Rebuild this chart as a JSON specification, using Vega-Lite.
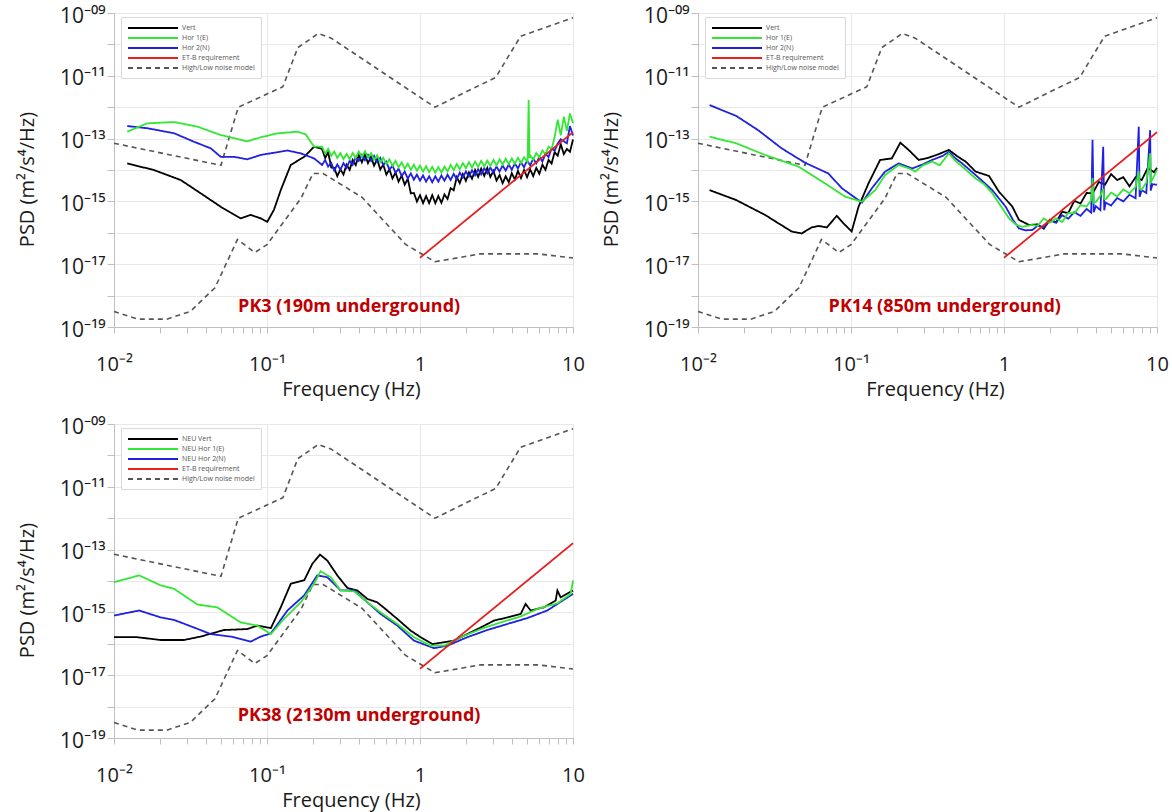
{
"$schema": "https://vega.github.io/schema/vega-lite/v6.json",
"background": "white",
"padding": {"left": 16, "top": 4, "right": 2, "bottom": 2},
"datasets": {
"nm": [
{"s":"High/Low noise model","c":"hi","f":0.01,"v":7.1e-14},{"s":"High/Low noise model","c":"hi","f":0.05,"v":1.41e-14},{"s":"High/Low noise model","c":"hi","f":0.0649,"v":1.0e-12},{"s":"High/Low noise model","c":"hi","f":0.127,"v":4.5e-12},{"s":"High/Low noise model","c":"hi","f":0.159,"v":7.9e-11},{"s":"High/Low noise model","c":"hi","f":0.217,"v":2.24e-10},{"s":"High/Low noise model","c":"hi","f":0.263,"v":1.58e-10},{"s":"High/Low noise model","c":"hi","f":1.25,"v":1.0e-12},{"s":"High/Low noise model","c":"hi","f":3.125,"v":8.9e-12},{"s":"High/Low noise model","c":"hi","f":4.545,"v":1.82e-10},{"s":"High/Low noise model","c":"hi","f":10,"v":7.1e-10},
{"s":"High/Low noise model","c":"lo","f":0.01,"v":3.1e-19},{"s":"High/Low noise model","c":"lo","f":0.01429,"v":1.78e-19},{"s":"High/Low noise model","c":"lo","f":0.0222,"v":1.78e-19},{"s":"High/Low noise model","c":"lo","f":0.0316,"v":3.16e-19},{"s":"High/Low noise model","c":"lo","f":0.0457,"v":1.78e-18},{"s":"High/Low noise model","c":"lo","f":0.0641,"v":6.1e-17},{"s":"High/Low noise model","c":"lo","f":0.0833,"v":2.37e-17},{"s":"High/Low noise model","c":"lo","f":0.1,"v":4.2e-17},{"s":"High/Low noise model","c":"lo","f":0.1667,"v":1.26e-15},{"s":"High/Low noise model","c":"lo","f":0.2,"v":7.76e-15},{"s":"High/Low noise model","c":"lo","f":0.2326,"v":7.76e-15},{"s":"High/Low noise model","c":"lo","f":0.417,"v":1.36e-15},{"s":"High/Low noise model","c":"lo","f":0.806,"v":4.26e-17},{"s":"High/Low noise model","c":"lo","f":1.25,"v":1.2e-17},{"s":"High/Low noise model","c":"lo","f":2.5,"v":2.14e-17},{"s":"High/Low noise model","c":"lo","f":5.88,"v":2.14e-17},{"s":"High/Low noise model","c":"lo","f":10,"v":1.58e-17}
],
"et": [
{"s":"ET-B requirement","f":1,"v":1.6e-17},{"s":"ET-B requirement","f":10,"v":1.6e-13}
],
"pk3": [
{"s":"Vert","f":0.0122,"v":1.62e-14},{"s":"Vert","f":0.0182,"v":1.0e-14},{"s":"Vert","f":0.0273,"v":4.79e-15},{"s":"Vert","f":0.0368,"v":1.82e-15},{"s":"Vert","f":0.0498,"v":6.76e-16},{"s":"Vert","f":0.0673,"v":2.88e-16},{"s":"Vert","f":0.0782,"v":3.72e-16},{"s":"Vert","f":0.091,"v":2.88e-16},{"s":"Vert","f":0.1005,"v":2.24e-16},{"s":"Vert","f":0.111,"v":5.37e-16},{"s":"Vert","f":0.123,"v":2.29e-15},{"s":"Vert","f":0.143,"v":1.45e-14},{"s":"Vert","f":0.175,"v":2.63e-14},{"s":"Vert","f":0.203,"v":5.5e-14},{"s":"Vert","f":0.219,"v":5.01e-14},
{"s":"Vert","f":0.229,"v":4.68e-14},{"s":"Vert","f":0.240,"v":2.40e-14},{"s":"Vert","f":0.251,"v":3.72e-14},{"s":"Vert","f":0.263,"v":1.20e-14},{"s":"Vert","f":0.275,"v":1.17e-14},{"s":"Vert","f":0.288,"v":6.38e-15},{"s":"Vert","f":0.302,"v":1.05e-14},{"s":"Vert","f":0.316,"v":7.16e-15},{"s":"Vert","f":0.331,"v":1.48e-14},{"s":"Vert","f":0.347,"v":1.01e-14},{"s":"Vert","f":0.363,"v":2.09e-14},{"s":"Vert","f":0.380,"v":1.43e-14},{"s":"Vert","f":0.398,"v":2.95e-14},{"s":"Vert","f":0.417,"v":1.76e-14},{"s":"Vert","f":0.437,"v":3.16e-14},{"s":"Vert","f":0.457,"v":1.66e-14},{"s":"Vert","f":0.479,"v":2.63e-14},{"s":"Vert","f":0.501,"v":1.38e-14},{"s":"Vert","f":0.525,"v":2.19e-14},{"s":"Vert","f":0.550,"v":1.04e-14},{"s":"Vert","f":0.575,"v":1.48e-14},{"s":"Vert","f":0.603,"v":7.16e-15},{"s":"Vert","f":0.631,"v":1.05e-14},{"s":"Vert","f":0.661,"v":5.37e-15},{"s":"Vert","f":0.692,"v":8.32e-15},{"s":"Vert","f":0.724,"v":4.27e-15},{"s":"Vert","f":0.759,"v":6.61e-15},{"s":"Vert","f":0.794,"v":3.39e-15},{"s":"Vert","f":0.832,"v":5.25e-15},{"s":"Vert","f":0.871,"v":1.80e-15},{"s":"Vert","f":0.912,"v":1.86e-15},{"s":"Vert","f":0.955,"v":9.89e-16},{"s":"Vert","f":1.0,"v":1.58e-15},{"s":"Vert","f":1.047,"v":8.81e-16},{"s":"Vert","f":1.096,"v":1.48e-15},{"s":"Vert","f":1.148,"v":8.81e-16},{"s":"Vert","f":1.202,"v":1.58e-15},{"s":"Vert","f":1.259,"v":8.81e-16},{"s":"Vert","f":1.318,"v":1.48e-15},{"s":"Vert","f":1.380,"v":9.02e-16},{"s":"Vert","f":1.445,"v":1.66e-15},{"s":"Vert","f":1.514,"v":1.20e-15},{"s":"Vert","f":1.585,"v":2.63e-15},{"s":"Vert","f":1.660,"v":2.26e-15},{"s":"Vert","f":1.738,"v":5.89e-15},{"s":"Vert","f":1.820,"v":3.80e-15},{"s":"Vert","f":1.905,"v":7.41e-15},{"s":"Vert","f":1.995,"v":4.52e-15},{"s":"Vert","f":2.089,"v":8.32e-15},{"s":"Vert","f":2.188,"v":5.25e-15},{"s":"Vert","f":2.291,"v":1.0e-14},{"s":"Vert","f":2.399,"v":6.03e-15},{"s":"Vert","f":2.512,"v":1.10e-14},{"s":"Vert","f":2.630,"v":6.53e-15},{"s":"Vert","f":2.754,"v":1.17e-14},{"s":"Vert","f":2.884,"v":6.03e-15},{"s":"Vert","f":3.020,"v":9.33e-15},{"s":"Vert","f":3.162,"v":4.62e-15},{"s":"Vert","f":3.311,"v":6.92e-15},{"s":"Vert","f":3.467,"v":3.80e-15},{"s":"Vert","f":3.631,"v":6.31e-15},{"s":"Vert","f":3.802,"v":4.07e-15},{"s":"Vert","f":3.981,"v":7.94e-15},{"s":"Vert","f":4.169,"v":4.95e-15},{"s":"Vert","f":4.365,"v":9.33e-15},{"s":"Vert","f":4.571,"v":5.56e-15},{"s":"Vert","f":4.786,"v":1.0e-14},{"s":"Vert","f":5.012,"v":5.89e-15},{"s":"Vert","f":5.248,"v":1.05e-14},{"s":"Vert","f":5.495,"v":6.38e-15},{"s":"Vert","f":5.754,"v":1.17e-14},{"s":"Vert","f":6.026,"v":7.59e-15},{"s":"Vert","f":6.310,"v":1.48e-14},{"s":"Vert","f":6.607,"v":1.01e-14},{"s":"Vert","f":6.918,"v":2.09e-14},{"s":"Vert","f":7.244,"v":1.60e-14},{"s":"Vert","f":7.586,"v":3.72e-14},{"s":"Vert","f":7.943,"v":2.85e-14},{"s":"Vert","f":8.318,"v":6.61e-14},{"s":"Vert","f":8.710,"v":3.20e-14},{"s":"Vert","f":9.120,"v":4.68e-14},{"s":"Vert","f":9.550,"v":3.80e-14},{"s":"Vert","f":10,"v":9.33e-14},
{"s":"Hor 2(N)","f":0.0122,"v":2.51e-13},{"s":"Hor 2(N)","f":0.0165,"v":2.14e-13},{"s":"Hor 2(N)","f":0.0247,"v":1.48e-13},{"s":"Hor 2(N)","f":0.0333,"v":7.94e-14},{"s":"Hor 2(N)","f":0.0429,"v":4.9e-14},{"s":"Hor 2(N)","f":0.0498,"v":2.63e-14},{"s":"Hor 2(N)","f":0.0608,"v":2.63e-14},{"s":"Hor 2(N)","f":0.0743,"v":2.19e-14},{"s":"Hor 2(N)","f":0.091,"v":3.02e-14},{"s":"Hor 2(N)","f":0.136,"v":4.17e-14},{"s":"Hor 2(N)","f":0.166,"v":3.39e-14},{"s":"Hor 2(N)","f":0.203,"v":2.34e-14},
{"s":"Hor 2(N)","f":0.229,"v":1.45e-14},{"s":"Hor 2(N)","f":0.240,"v":2.07e-14},{"s":"Hor 2(N)","f":0.251,"v":1.29e-14},{"s":"Hor 2(N)","f":0.263,"v":1.68e-14},{"s":"Hor 2(N)","f":0.275,"v":9.55e-15},{"s":"Hor 2(N)","f":0.288,"v":1.50e-14},{"s":"Hor 2(N)","f":0.302,"v":1.02e-14},{"s":"Hor 2(N)","f":0.316,"v":1.66e-14},{"s":"Hor 2(N)","f":0.331,"v":1.17e-14},{"s":"Hor 2(N)","f":0.347,"v":1.97e-14},{"s":"Hor 2(N)","f":0.363,"v":1.45e-14},{"s":"Hor 2(N)","f":0.380,"v":2.54e-14},{"s":"Hor 2(N)","f":0.398,"v":1.95e-14},{"s":"Hor 2(N)","f":0.417,"v":3.02e-14},{"s":"Hor 2(N)","f":0.437,"v":2.04e-14},{"s":"Hor 2(N)","f":0.457,"v":3.02e-14},{"s":"Hor 2(N)","f":0.479,"v":1.95e-14},{"s":"Hor 2(N)","f":0.501,"v":2.82e-14},{"s":"Hor 2(N)","f":0.525,"v":1.78e-14},{"s":"Hor 2(N)","f":0.550,"v":2.43e-14},{"s":"Hor 2(N)","f":0.575,"v":1.45e-14},{"s":"Hor 2(N)","f":0.603,"v":1.84e-14},{"s":"Hor 2(N)","f":0.631,"v":1.02e-14},{"s":"Hor 2(N)","f":0.661,"v":1.38e-14},{"s":"Hor 2(N)","f":0.692,"v":8.13e-15},{"s":"Hor 2(N)","f":0.724,"v":1.10e-14},{"s":"Hor 2(N)","f":0.759,"v":6.46e-15},{"s":"Hor 2(N)","f":0.794,"v":8.91e-15},{"s":"Hor 2(N)","f":0.832,"v":5.37e-15},{"s":"Hor 2(N)","f":0.871,"v":7.76e-15},{"s":"Hor 2(N)","f":0.912,"v":4.90e-15},{"s":"Hor 2(N)","f":0.955,"v":7.16e-15},{"s":"Hor 2(N)","f":1.0,"v":4.57e-15},{"s":"Hor 2(N)","f":1.047,"v":6.68e-15},{"s":"Hor 2(N)","f":1.096,"v":4.27e-15},{"s":"Hor 2(N)","f":1.148,"v":6.31e-15},{"s":"Hor 2(N)","f":1.202,"v":4.07e-15},{"s":"Hor 2(N)","f":1.259,"v":6.31e-15},{"s":"Hor 2(N)","f":1.318,"v":4.27e-15},{"s":"Hor 2(N)","f":1.380,"v":6.68e-15},{"s":"Hor 2(N)","f":1.445,"v":4.57e-15},{"s":"Hor 2(N)","f":1.514,"v":7.08e-15},{"s":"Hor 2(N)","f":1.585,"v":4.79e-15},{"s":"Hor 2(N)","f":1.660,"v":7.50e-15},{"s":"Hor 2(N)","f":1.738,"v":5.13e-15},{"s":"Hor 2(N)","f":1.820,"v":8.22e-15},{"s":"Hor 2(N)","f":1.905,"v":5.75e-15},{"s":"Hor 2(N)","f":1.995,"v":9.02e-15},{"s":"Hor 2(N)","f":2.089,"v":6.17e-15},{"s":"Hor 2(N)","f":2.188,"v":9.77e-15},{"s":"Hor 2(N)","f":2.291,"v":6.76e-15},{"s":"Hor 2(N)","f":2.399,"v":1.06e-14},{"s":"Hor 2(N)","f":2.512,"v":7.24e-15},{"s":"Hor 2(N)","f":2.630,"v":1.14e-14},{"s":"Hor 2(N)","f":2.754,"v":7.76e-15},{"s":"Hor 2(N)","f":2.884,"v":1.20e-14},{"s":"Hor 2(N)","f":3.020,"v":8.13e-15},{"s":"Hor 2(N)","f":3.162,"v":1.29e-14},{"s":"Hor 2(N)","f":3.311,"v":8.91e-15},{"s":"Hor 2(N)","f":3.467,"v":1.40e-14},{"s":"Hor 2(N)","f":3.631,"v":9.55e-15},{"s":"Hor 2(N)","f":3.802,"v":1.50e-14},{"s":"Hor 2(N)","f":3.981,"v":1.02e-14},{"s":"Hor 2(N)","f":4.169,"v":1.62e-14},{"s":"Hor 2(N)","f":4.365,"v":1.12e-14},{"s":"Hor 2(N)","f":4.571,"v":1.78e-14},{"s":"Hor 2(N)","f":4.786,"v":1.23e-14},{"s":"Hor 2(N)","f":5.012,"v":2.0e-14},{"s":"Hor 2(N)","f":5.248,"v":1.41e-14},{"s":"Hor 2(N)","f":5.495,"v":2.29e-14},{"s":"Hor 2(N)","f":5.754,"v":1.62e-14},{"s":"Hor 2(N)","f":6.026,"v":2.63e-14},{"s":"Hor 2(N)","f":6.310,"v":1.86e-14},{"s":"Hor 2(N)","f":6.607,"v":3.31e-14},{"s":"Hor 2(N)","f":6.918,"v":2.57e-14},{"s":"Hor 2(N)","f":7.244,"v":4.90e-14},{"s":"Hor 2(N)","f":7.586,"v":4.07e-14},{"s":"Hor 2(N)","f":7.943,"v":7.0e-14},{"s":"Hor 2(N)","f":8.318,"v":9.55e-14},{"s":"Hor 2(N)","f":9.12,"v":7.08e-14},{"s":"Hor 2(N)","f":9.55,"v":2.51e-13},{"s":"Hor 2(N)","f":10,"v":1.26e-13},
{"s":"Hor 1(E)","f":0.0122,"v":1.66e-13},{"s":"Hor 1(E)","f":0.0165,"v":3.06e-13},{"s":"Hor 1(E)","f":0.0247,"v":3.37e-13},{"s":"Hor 1(E)","f":0.0351,"v":2.4e-13},{"s":"Hor 1(E)","f":0.0498,"v":1.3e-13},{"s":"Hor 1(E)","f":0.0743,"v":8.18e-14},{"s":"Hor 1(E)","f":0.091,"v":1.1e-13},{"s":"Hor 1(E)","f":0.117,"v":1.47e-13},{"s":"Hor 1(E)","f":0.158,"v":1.66e-13},{"s":"Hor 1(E)","f":0.179,"v":1.37e-13},{"s":"Hor 1(E)","f":0.203,"v":5.53e-14},
{"s":"Hor 1(E)","f":0.229,"v":5.50e-14},{"s":"Hor 1(E)","f":0.240,"v":3.35e-14},{"s":"Hor 1(E)","f":0.251,"v":4.68e-14},{"s":"Hor 1(E)","f":0.263,"v":2.82e-14},{"s":"Hor 1(E)","f":0.275,"v":3.89e-14},{"s":"Hor 1(E)","f":0.288,"v":2.43e-14},{"s":"Hor 1(E)","f":0.302,"v":3.47e-14},{"s":"Hor 1(E)","f":0.316,"v":2.21e-14},{"s":"Hor 1(E)","f":0.331,"v":3.24e-14},{"s":"Hor 1(E)","f":0.347,"v":2.21e-14},{"s":"Hor 1(E)","f":0.363,"v":3.47e-14},{"s":"Hor 1(E)","f":0.380,"v":2.43e-14},{"s":"Hor 1(E)","f":0.398,"v":3.89e-14},{"s":"Hor 1(E)","f":0.417,"v":2.60e-14},{"s":"Hor 1(E)","f":0.437,"v":3.98e-14},{"s":"Hor 1(E)","f":0.457,"v":2.45e-14},{"s":"Hor 1(E)","f":0.479,"v":3.47e-14},{"s":"Hor 1(E)","f":0.501,"v":2.11e-14},{"s":"Hor 1(E)","f":0.525,"v":2.95e-14},{"s":"Hor 1(E)","f":0.550,"v":1.78e-14},{"s":"Hor 1(E)","f":0.575,"v":2.45e-14},{"s":"Hor 1(E)","f":0.603,"v":1.53e-14},{"s":"Hor 1(E)","f":0.631,"v":2.19e-14},{"s":"Hor 1(E)","f":0.661,"v":1.36e-14},{"s":"Hor 1(E)","f":0.692,"v":1.95e-14},{"s":"Hor 1(E)","f":0.724,"v":1.22e-14},{"s":"Hor 1(E)","f":0.759,"v":1.74e-14},{"s":"Hor 1(E)","f":0.794,"v":1.10e-14},{"s":"Hor 1(E)","f":0.832,"v":1.58e-14},{"s":"Hor 1(E)","f":0.871,"v":1.01e-14},{"s":"Hor 1(E)","f":0.912,"v":1.48e-14},{"s":"Hor 1(E)","f":0.955,"v":9.44e-15},{"s":"Hor 1(E)","f":1.0,"v":1.38e-14},{"s":"Hor 1(E)","f":1.047,"v":8.91e-15},{"s":"Hor 1(E)","f":1.096,"v":1.32e-14},{"s":"Hor 1(E)","f":1.148,"v":8.51e-15},{"s":"Hor 1(E)","f":1.202,"v":1.26e-14},{"s":"Hor 1(E)","f":1.259,"v":8.22e-15},{"s":"Hor 1(E)","f":1.318,"v":1.23e-14},{"s":"Hor 1(E)","f":1.380,"v":8.32e-15},{"s":"Hor 1(E)","f":1.445,"v":1.29e-14},{"s":"Hor 1(E)","f":1.514,"v":9.02e-15},{"s":"Hor 1(E)","f":1.585,"v":1.45e-14},{"s":"Hor 1(E)","f":1.660,"v":9.89e-15},{"s":"Hor 1(E)","f":1.738,"v":1.55e-14},{"s":"Hor 1(E)","f":1.820,"v":1.06e-14},{"s":"Hor 1(E)","f":1.905,"v":1.66e-14},{"s":"Hor 1(E)","f":1.995,"v":1.14e-14},{"s":"Hor 1(E)","f":2.089,"v":1.78e-14},{"s":"Hor 1(E)","f":2.188,"v":1.20e-14},{"s":"Hor 1(E)","f":2.291,"v":1.86e-14},{"s":"Hor 1(E)","f":2.399,"v":1.26e-14},{"s":"Hor 1(E)","f":2.512,"v":1.95e-14},{"s":"Hor 1(E)","f":2.630,"v":1.30e-14},{"s":"Hor 1(E)","f":2.754,"v":2.0e-14},{"s":"Hor 1(E)","f":2.884,"v":1.35e-14},{"s":"Hor 1(E)","f":3.020,"v":2.09e-14},{"s":"Hor 1(E)","f":3.162,"v":1.41e-14},{"s":"Hor 1(E)","f":3.311,"v":2.19e-14},{"s":"Hor 1(E)","f":3.467,"v":1.48e-14},{"s":"Hor 1(E)","f":3.631,"v":2.29e-14},{"s":"Hor 1(E)","f":3.802,"v":1.53e-14},{"s":"Hor 1(E)","f":3.981,"v":2.34e-14},{"s":"Hor 1(E)","f":4.169,"v":1.58e-14},{"s":"Hor 1(E)","f":4.365,"v":2.45e-14},{"s":"Hor 1(E)","f":4.571,"v":1.66e-14},{"s":"Hor 1(E)","f":4.786,"v":2.57e-14},{"s":"Hor 1(E)","f":5.05,"v":1.8e-14},{"s":"Hor 1(E)","f":5.13,"v":1.7e-12},{"s":"Hor 1(E)","f":5.2,"v":2.4e-14},{"s":"Hor 1(E)","f":5.248,"v":2.95e-14},{"s":"Hor 1(E)","f":5.495,"v":2.11e-14},{"s":"Hor 1(E)","f":5.754,"v":3.47e-14},{"s":"Hor 1(E)","f":6.026,"v":2.51e-14},{"s":"Hor 1(E)","f":6.310,"v":4.17e-14},{"s":"Hor 1(E)","f":6.607,"v":3.16e-14},{"s":"Hor 1(E)","f":6.918,"v":5.50e-14},{"s":"Hor 1(E)","f":7.244,"v":4.57e-14},{"s":"Hor 1(E)","f":7.586,"v":1.12e-13},{"s":"Hor 1(E)","f":7.943,"v":3.98e-13},{"s":"Hor 1(E)","f":8.318,"v":1.26e-13},{"s":"Hor 1(E)","f":8.71,"v":5.0e-13},{"s":"Hor 1(E)","f":9.12,"v":1.78e-13},{"s":"Hor 1(E)","f":9.55,"v":6.3e-13},{"s":"Hor 1(E)","f":10,"v":3.16e-13}
],
"pk14": [
{"s":"Vert","f":0.0119,"v":2.29e-15},{"s":"Vert","f":0.0178,"v":1.1e-15},{"s":"Vert","f":0.0274,"v":3.72e-16},{"s":"Vert","f":0.0409,"v":1.1e-16},{"s":"Vert","f":0.0476,"v":9.55e-17},{"s":"Vert","f":0.0553,"v":1.48e-16},{"s":"Vert","f":0.0612,"v":1.66e-16},{"s":"Vert","f":0.0695,"v":1.48e-16},{"s":"Vert","f":0.0807,"v":3.47e-16},{"s":"Vert","f":0.0893,"v":2.0e-16},{"s":"Vert","f":0.101,"v":1.1e-16},{"s":"Vert","f":0.112,"v":6.76e-16},{"s":"Vert","f":0.13,"v":3.72e-15},{"s":"Vert","f":0.155,"v":2.09e-14},{"s":"Vert","f":0.185,"v":2.34e-14},{"s":"Vert","f":0.21,"v":7.41e-14},{"s":"Vert","f":0.238,"v":4.37e-14},{"s":"Vert","f":0.277,"v":2.09e-14},{"s":"Vert","f":0.316,"v":2.4e-14},{"s":"Vert","f":0.372,"v":3.16e-14},{"s":"Vert","f":0.436,"v":4.37e-14},{"s":"Vert","f":0.501,"v":2.63e-14},{"s":"Vert","f":0.561,"v":1.86e-14},{"s":"Vert","f":0.652,"v":8.91e-15},{"s":"Vert","f":0.798,"v":6.46e-15},{"s":"Vert","f":0.927,"v":2.04e-15},{"s":"Vert","f":1.135,"v":6.76e-16},{"s":"Vert","f":1.253,"v":2.57e-16},{"s":"Vert","f":1.459,"v":1.78e-16},
{"s":"Vert","f":1.66,"v":1.86e-16},{"s":"Vert","f":1.82,"v":1.35e-16},{"s":"Vert","f":1.995,"v":2.63e-16},{"s":"Vert","f":2.188,"v":2.14e-16},{"s":"Vert","f":2.399,"v":4.68e-16},{"s":"Vert","f":2.63,"v":4.27e-16},{"s":"Vert","f":2.884,"v":1.05e-15},{"s":"Vert","f":3.162,"v":8.51e-16},{"s":"Vert","f":3.467,"v":1.86e-15},{"s":"Vert","f":3.802,"v":1.82e-15},{"s":"Vert","f":4.169,"v":4.17e-15},{"s":"Vert","f":4.571,"v":3.39e-15},{"s":"Vert","f":5.012,"v":7.41e-15},{"s":"Vert","f":5.495,"v":4.79e-15},{"s":"Vert","f":6.026,"v":5.89e-15},{"s":"Vert","f":6.607,"v":3.02e-15},{"s":"Vert","f":7.244,"v":5.89e-15},{"s":"Vert","f":7.943,"v":4.79e-15},{"s":"Vert","f":8.71,"v":1.17e-14},{"s":"Vert","f":9.55,"v":8.51e-15},{"s":"Vert","f":10,"v":1.17e-14},
{"s":"Hor 2(N)","f":0.0119,"v":1.17e-12},{"s":"Hor 2(N)","f":0.0178,"v":5.25e-13},{"s":"Hor 2(N)","f":0.0247,"v":1.86e-13},{"s":"Hor 2(N)","f":0.0352,"v":4.9e-14},{"s":"Hor 2(N)","f":0.0501,"v":1.7e-14},{"s":"Hor 2(N)","f":0.0711,"v":7.76e-15},{"s":"Hor 2(N)","f":0.0871,"v":2.63e-15},{"s":"Hor 2(N)","f":0.118,"v":9.12e-16},{"s":"Hor 2(N)","f":0.137,"v":2.63e-15},{"s":"Hor 2(N)","f":0.167,"v":8.91e-15},{"s":"Hor 2(N)","f":0.205,"v":1.62e-14},{"s":"Hor 2(N)","f":0.251,"v":1.12e-14},{"s":"Hor 2(N)","f":0.295,"v":1.51e-14},{"s":"Hor 2(N)","f":0.339,"v":2.09e-14},{"s":"Hor 2(N)","f":0.398,"v":2.82e-14},{"s":"Hor 2(N)","f":0.436,"v":3.8e-14},{"s":"Hor 2(N)","f":0.479,"v":2.4e-14},{"s":"Hor 2(N)","f":0.533,"v":1.62e-14},{"s":"Hor 2(N)","f":0.652,"v":6.92e-15},{"s":"Hor 2(N)","f":0.741,"v":3.98e-15},{"s":"Hor 2(N)","f":0.838,"v":2.29e-15},{"s":"Hor 2(N)","f":1.026,"v":6.76e-16},{"s":"Hor 2(N)","f":1.148,"v":2.51e-16},{"s":"Hor 2(N)","f":1.253,"v":1.38e-16},{"s":"Hor 2(N)","f":1.38,"v":1.2e-16},{"s":"Hor 2(N)","f":1.535,"v":1.23e-16},
{"s":"Hor 2(N)","f":1.66,"v":1.7e-16},{"s":"Hor 2(N)","f":1.82,"v":1.48e-16},{"s":"Hor 2(N)","f":1.995,"v":2.51e-16},{"s":"Hor 2(N)","f":2.188,"v":2.09e-16},{"s":"Hor 2(N)","f":2.399,"v":3.63e-16},{"s":"Hor 2(N)","f":2.63,"v":2.82e-16},{"s":"Hor 2(N)","f":2.884,"v":4.57e-16},{"s":"Hor 2(N)","f":3.162,"v":3.47e-16},{"s":"Hor 2(N)","f":3.467,"v":5.75e-16},{"s":"Hor 2(N)","f":3.715,"v":4.37e-16},{"s":"Hor 2(N)","f":3.79,"v":9.12e-14},{"s":"Hor 2(N)","f":3.86,"v":4.5e-16},{"s":"Hor 2(N)","f":3.981,"v":7.08e-16},{"s":"Hor 2(N)","f":4.266,"v":5.25e-16},{"s":"Hor 2(N)","f":4.45,"v":5.5e-14},{"s":"Hor 2(N)","f":4.52,"v":5.2e-16},{"s":"Hor 2(N)","f":4.62,"v":9.12e-16},{"s":"Hor 2(N)","f":5.012,"v":7.41e-16},{"s":"Hor 2(N)","f":5.495,"v":1.29e-15},{"s":"Hor 2(N)","f":6.026,"v":1.0e-15},{"s":"Hor 2(N)","f":6.607,"v":1.62e-15},{"s":"Hor 2(N)","f":7.244,"v":1.26e-15},{"s":"Hor 2(N)","f":7.6,"v":2.4e-13},{"s":"Hor 2(N)","f":7.7,"v":1.4e-15},{"s":"Hor 2(N)","f":7.943,"v":2.29e-15},{"s":"Hor 2(N)","f":8.511,"v":1.86e-15},{"s":"Hor 2(N)","f":9.02,"v":1.86e-13},{"s":"Hor 2(N)","f":9.1,"v":2.2e-15},{"s":"Hor 2(N)","f":9.333,"v":3.55e-15},{"s":"Hor 2(N)","f":10,"v":3.39e-15},
{"s":"Hor 1(E)","f":0.0119,"v":1.15e-13},{"s":"Hor 1(E)","f":0.0178,"v":7.08e-14},{"s":"Hor 1(E)","f":0.0274,"v":3.02e-14},{"s":"Hor 1(E)","f":0.0453,"v":1.29e-14},{"s":"Hor 1(E)","f":0.0678,"v":3.72e-15},{"s":"Hor 1(E)","f":0.0916,"v":1.41e-15},{"s":"Hor 1(E)","f":0.118,"v":9.77e-16},{"s":"Hor 1(E)","f":0.144,"v":2.29e-15},{"s":"Hor 1(E)","f":0.167,"v":6.92e-15},{"s":"Hor 1(E)","f":0.205,"v":1.45e-14},{"s":"Hor 1(E)","f":0.24,"v":1.12e-14},{"s":"Hor 1(E)","f":0.263,"v":8.91e-15},{"s":"Hor 1(E)","f":0.295,"v":1.41e-14},{"s":"Hor 1(E)","f":0.339,"v":1.86e-14},{"s":"Hor 1(E)","f":0.38,"v":1.41e-14},{"s":"Hor 1(E)","f":0.436,"v":3.39e-14},{"s":"Hor 1(E)","f":0.479,"v":2.0e-14},{"s":"Hor 1(E)","f":0.533,"v":1.29e-14},{"s":"Hor 1(E)","f":0.652,"v":5.37e-15},{"s":"Hor 1(E)","f":0.741,"v":3.55e-15},{"s":"Hor 1(E)","f":0.838,"v":1.82e-15},{"s":"Hor 1(E)","f":1.079,"v":2.88e-16},{"s":"Hor 1(E)","f":1.202,"v":1.78e-16},{"s":"Hor 1(E)","f":1.318,"v":1.55e-16},{"s":"Hor 1(E)","f":1.514,"v":1.78e-16},
{"s":"Hor 1(E)","f":1.66,"v":1.66e-16},{"s":"Hor 1(E)","f":1.82,"v":2.88e-16},{"s":"Hor 1(E)","f":1.995,"v":2.09e-16},{"s":"Hor 1(E)","f":2.188,"v":2.88e-16},{"s":"Hor 1(E)","f":2.399,"v":2.19e-16},{"s":"Hor 1(E)","f":2.63,"v":4.27e-16},{"s":"Hor 1(E)","f":2.884,"v":4.17e-16},{"s":"Hor 1(E)","f":3.162,"v":7.59e-16},{"s":"Hor 1(E)","f":3.467,"v":6.92e-16},{"s":"Hor 1(E)","f":3.715,"v":1.1e-15},{"s":"Hor 1(E)","f":3.79,"v":5.5e-15},{"s":"Hor 1(E)","f":3.86,"v":9.0e-16},{"s":"Hor 1(E)","f":3.981,"v":9.55e-16},{"s":"Hor 1(E)","f":4.266,"v":1.51e-15},{"s":"Hor 1(E)","f":4.45,"v":2.5e-15},{"s":"Hor 1(E)","f":4.52,"v":1.2e-15},{"s":"Hor 1(E)","f":4.62,"v":1.17e-15},{"s":"Hor 1(E)","f":5.012,"v":1.91e-15},{"s":"Hor 1(E)","f":5.495,"v":1.45e-15},{"s":"Hor 1(E)","f":6.026,"v":2.4e-15},{"s":"Hor 1(E)","f":6.607,"v":1.82e-15},{"s":"Hor 1(E)","f":7.244,"v":2.88e-15},{"s":"Hor 1(E)","f":7.6,"v":9.0e-15},{"s":"Hor 1(E)","f":7.7,"v":2.5e-15},{"s":"Hor 1(E)","f":7.943,"v":2.34e-15},{"s":"Hor 1(E)","f":8.511,"v":3.98e-15},{"s":"Hor 1(E)","f":9.02,"v":3.4e-14},{"s":"Hor 1(E)","f":9.1,"v":4.0e-15},{"s":"Hor 1(E)","f":9.333,"v":5.01e-15},{"s":"Hor 1(E)","f":10,"v":1.0e-14}
],
"pk38": [
{"s":"NEU Vert","f":0.01,"v":1.62e-16},{"s":"NEU Vert","f":0.0142,"v":1.62e-16},{"s":"NEU Vert","f":0.0202,"v":1.32e-16},{"s":"NEU Vert","f":0.0287,"v":1.32e-16},{"s":"NEU Vert","f":0.0368,"v":1.7e-16},{"s":"NEU Vert","f":0.0524,"v":2.75e-16},{"s":"NEU Vert","f":0.0743,"v":2.95e-16},{"s":"NEU Vert","f":0.0865,"v":3.8e-16},{"s":"NEU Vert","f":0.106,"v":3.16e-16},{"s":"NEU Vert","f":0.123,"v":1.45e-15},{"s":"NEU Vert","f":0.143,"v":8.13e-15},{"s":"NEU Vert","f":0.175,"v":1.05e-14},{"s":"NEU Vert","f":0.198,"v":3.55e-14},{"s":"NEU Vert","f":0.222,"v":6.92e-14},{"s":"NEU Vert","f":0.248,"v":4.47e-14},{"s":"NEU Vert","f":0.288,"v":1.51e-14},{"s":"NEU Vert","f":0.335,"v":6.03e-15},{"s":"NEU Vert","f":0.389,"v":5.01e-15},{"s":"NEU Vert","f":0.453,"v":2.69e-15},{"s":"NEU Vert","f":0.526,"v":2.09e-15},{"s":"NEU Vert","f":0.611,"v":1.15e-15},{"s":"NEU Vert","f":0.711,"v":6.17e-16},{"s":"NEU Vert","f":0.869,"v":2.63e-16},{"s":"NEU Vert","f":1.009,"v":1.62e-16},{"s":"NEU Vert","f":1.205,"v":9.77e-17},{"s":"NEU Vert","f":1.435,"v":1.12e-16},{"s":"NEU Vert","f":1.667,"v":1.26e-16},{"s":"NEU Vert","f":2.037,"v":2.04e-16},{"s":"NEU Vert","f":2.495,"v":3.31e-16},{"s":"NEU Vert","f":3.048,"v":5.5e-16},{"s":"NEU Vert","f":3.724,"v":6.92e-16},{"s":"NEU Vert","f":4.55,"v":8.91e-16},{"s":"NEU Vert","f":4.898,"v":1.86e-15},{"s":"NEU Vert","f":5.284,"v":1.15e-15},{"s":"NEU Vert","f":6.457,"v":1.45e-15},{"s":"NEU Vert","f":7.709,"v":2.4e-15},{"s":"NEU Vert","f":7.907,"v":5.01e-15},{"s":"NEU Vert","f":8.299,"v":3.02e-15},{"s":"NEU Vert","f":10,"v":5.01e-15},
{"s":"NEU Hor 2(N)","f":0.01,"v":7.94e-16},{"s":"NEU Hor 2(N)","f":0.0146,"v":1.15e-15},{"s":"NEU Hor 2(N)","f":0.0202,"v":6.92e-16},{"s":"NEU Hor 2(N)","f":0.0247,"v":5.75e-16},{"s":"NEU Hor 2(N)","f":0.0333,"v":3.31e-16},{"s":"NEU Hor 2(N)","f":0.0429,"v":2.04e-16},{"s":"NEU Hor 2(N)","f":0.0579,"v":1.7e-16},{"s":"NEU Hor 2(N)","f":0.0782,"v":1.17e-16},{"s":"NEU Hor 2(N)","f":0.091,"v":1.7e-16},{"s":"NEU Hor 2(N)","f":0.106,"v":2.14e-16},{"s":"NEU Hor 2(N)","f":0.136,"v":1.15e-15},{"s":"NEU Hor 2(N)","f":0.175,"v":3.47e-15},{"s":"NEU Hor 2(N)","f":0.213,"v":1.51e-14},{"s":"NEU Hor 2(N)","f":0.248,"v":1.32e-14},{"s":"NEU Hor 2(N)","f":0.303,"v":5.01e-15},{"s":"NEU Hor 2(N)","f":0.371,"v":5.01e-15},{"s":"NEU Hor 2(N)","f":0.453,"v":2.09e-15},{"s":"NEU Hor 2(N)","f":0.553,"v":8.91e-16},{"s":"NEU Hor 2(N)","f":0.711,"v":3.8e-16},{"s":"NEU Hor 2(N)","f":0.914,"v":1.26e-16},{"s":"NEU Hor 2(N)","f":1.236,"v":7.24e-17},{"s":"NEU Hor 2(N)","f":1.51,"v":8.71e-17},{"s":"NEU Hor 2(N)","f":2.037,"v":1.62e-16},{"s":"NEU Hor 2(N)","f":2.754,"v":2.75e-16},{"s":"NEU Hor 2(N)","f":3.724,"v":4.27e-16},{"s":"NEU Hor 2(N)","f":5.035,"v":6.61e-16},{"s":"NEU Hor 2(N)","f":6.792,"v":1.15e-15},{"s":"NEU Hor 2(N)","f":10,"v":3.89e-15},
{"s":"NEU Hor 1(E)","f":0.01,"v":9.12e-15},{"s":"NEU Hor 1(E)","f":0.0146,"v":1.51e-14},{"s":"NEU Hor 1(E)","f":0.0202,"v":7.24e-15},{"s":"NEU Hor 1(E)","f":0.0247,"v":5.62e-15},{"s":"NEU Hor 1(E)","f":0.0351,"v":1.78e-15},{"s":"NEU Hor 1(E)","f":0.0473,"v":1.45e-15},{"s":"NEU Hor 1(E)","f":0.0673,"v":4.79e-16},{"s":"NEU Hor 1(E)","f":0.0865,"v":3.8e-16},{"s":"NEU Hor 1(E)","f":0.106,"v":2.04e-16},{"s":"NEU Hor 1(E)","f":0.129,"v":6.17e-16},{"s":"NEU Hor 1(E)","f":0.166,"v":2.09e-15},{"s":"NEU Hor 1(E)","f":0.203,"v":8.13e-15},{"s":"NEU Hor 1(E)","f":0.224,"v":2.04e-14},{"s":"NEU Hor 1(E)","f":0.261,"v":1.32e-14},{"s":"NEU Hor 1(E)","f":0.303,"v":5.01e-15},{"s":"NEU Hor 1(E)","f":0.371,"v":4.68e-15},{"s":"NEU Hor 1(E)","f":0.453,"v":2.09e-15},{"s":"NEU Hor 1(E)","f":0.553,"v":1.0e-15},{"s":"NEU Hor 1(E)","f":0.711,"v":4.27e-16},{"s":"NEU Hor 1(E)","f":0.914,"v":1.62e-16},{"s":"NEU Hor 1(E)","f":1.175,"v":8.71e-17},{"s":"NEU Hor 1(E)","f":1.435,"v":8.71e-17},{"s":"NEU Hor 1(E)","f":1.845,"v":1.62e-16},{"s":"NEU Hor 1(E)","f":2.495,"v":2.95e-16},{"s":"NEU Hor 1(E)","f":3.365,"v":4.79e-16},{"s":"NEU Hor 1(E)","f":4.55,"v":7.41e-16},{"s":"NEU Hor 1(E)","f":5.848,"v":1.29e-15},{"s":"NEU Hor 1(E)","f":7.907,"v":1.95e-15},{"s":"NEU Hor 1(E)","f":9.66,"v":3.89e-15},{"s":"NEU Hor 1(E)","f":10,"v":1.05e-14}
]
},
"concat": [
{
"width": 459, "height": 314,
"encoding": {
"x": {"field":"f","type":"quantitative","scale":{"type":"log","domain":[0.01,10],"nice":false},"axis":{"title":"Frequency (Hz)"}},
"y": {"field":"v","type":"quantitative","scale":{"type":"log","domain":[1e-19,1e-9],"nice":false},"axis":{"title":"PSD (m²/s⁴/Hz)"}}
},
"layer": [
{"data":{"name":"nm"},"mark":{"type":"line","strokeWidth":1.6},"encoding":{
"color":{"field":"s","type":"nominal","scale":{"domain":["Vert","Hor 1(E)","Hor 2(N)","ET-B requirement","High/Low noise model"],"range":["#000000","#33e633","#2020e0","#e62020","#555555"]},"legend":{"title":null}},
"strokeDash":{"field":"s","type":"nominal","scale":{"domain":["Vert","Hor 1(E)","Hor 2(N)","ET-B requirement","High/Low noise model"],"range":[[1,0],[1,0],[1,0],[1,0],[5,4]]},"legend":{"title":null}},
"detail":{"field":"c"}}},
{"data":{"name":"pk3"},"mark":{"type":"line","strokeWidth":1.8},"encoding":{
"color":{"field":"s","type":"nominal","legend":{"title":null}},
"strokeDash":{"field":"s","type":"nominal","legend":{"title":null}}}},
{"data":{"name":"et"},"mark":{"type":"line","strokeWidth":1.8},"encoding":{
"color":{"field":"s","type":"nominal","legend":{"title":null}},
"strokeDash":{"field":"s","type":"nominal","legend":{"title":null}}}},
{"data":{"values":[{"f":0.344,"v":4.4e-19,"t":"PK3 (190m underground)"}]},"mark":{"type":"text","font":"Open Sans","fontWeight":"bold","fontSize":18,"color":"#c00000","baseline":"middle"},"encoding":{"text":{"field":"t"}}}
]
},
{
"width": 459, "height": 314,
"encoding": {
"x": {"field":"f","type":"quantitative","scale":{"type":"log","domain":[0.01,10],"nice":false},"axis":{"title":"Frequency (Hz)"}},
"y": {"field":"v","type":"quantitative","scale":{"type":"log","domain":[1e-19,1e-9],"nice":false},"axis":{"title":"PSD (m²/s⁴/Hz)"}}
},
"layer": [
{"data":{"name":"nm"},"mark":{"type":"line","strokeWidth":1.6},"encoding":{
"color":{"field":"s","type":"nominal","scale":{"domain":["Vert","Hor 1(E)","Hor 2(N)","ET-B requirement","High/Low noise model"],"range":["#000000","#33e633","#2020e0","#e62020","#555555"]},"legend":{"title":null}},
"strokeDash":{"field":"s","type":"nominal","scale":{"domain":["Vert","Hor 1(E)","Hor 2(N)","ET-B requirement","High/Low noise model"],"range":[[1,0],[1,0],[1,0],[1,0],[5,4]]},"legend":{"title":null}},
"detail":{"field":"c"}}},
{"data":{"name":"pk14"},"mark":{"type":"line","strokeWidth":1.8},"encoding":{
"color":{"field":"s","type":"nominal","legend":{"title":null}},
"strokeDash":{"field":"s","type":"nominal","legend":{"title":null}}}},
{"data":{"name":"et"},"mark":{"type":"line","strokeWidth":1.8},"encoding":{
"color":{"field":"s","type":"nominal","legend":{"title":null}},
"strokeDash":{"field":"s","type":"nominal","legend":{"title":null}}}},
{"data":{"values":[{"f":0.41,"v":4.4e-19,"t":"PK14 (850m underground)"}]},"mark":{"type":"text","font":"Open Sans","fontWeight":"bold","fontSize":18,"color":"#c00000","baseline":"middle"},"encoding":{"text":{"field":"t"}}}
]
},
{
"width": 459, "height": 314,
"encoding": {
"x": {"field":"f","type":"quantitative","scale":{"type":"log","domain":[0.01,10],"nice":false},"axis":{"title":"Frequency (Hz)"}},
"y": {"field":"v","type":"quantitative","scale":{"type":"log","domain":[1e-19,1e-9],"nice":false},"axis":{"title":"PSD (m²/s⁴/Hz)"}}
},
"layer": [
{"data":{"name":"nm"},"mark":{"type":"line","strokeWidth":1.6},"encoding":{
"color":{"field":"s","type":"nominal","scale":{"domain":["NEU Vert","NEU Hor 1(E)","NEU Hor 2(N)","ET-B requirement","High/Low noise model"],"range":["#000000","#33e633","#2020e0","#e62020","#555555"]},"legend":{"title":null}},
"strokeDash":{"field":"s","type":"nominal","scale":{"domain":["NEU Vert","NEU Hor 1(E)","NEU Hor 2(N)","ET-B requirement","High/Low noise model"],"range":[[1,0],[1,0],[1,0],[1,0],[5,4]]},"legend":{"title":null}},
"detail":{"field":"c"}}},
{"data":{"name":"pk38"},"mark":{"type":"line","strokeWidth":1.8},"encoding":{
"color":{"field":"s","type":"nominal","legend":{"title":null}},
"strokeDash":{"field":"s","type":"nominal","legend":{"title":null}}}},
{"data":{"name":"et"},"mark":{"type":"line","strokeWidth":1.8},"encoding":{
"color":{"field":"s","type":"nominal","legend":{"title":null}},
"strokeDash":{"field":"s","type":"nominal","legend":{"title":null}}}},
{"data":{"values":[{"f":0.4,"v":5.0e-19,"t":"PK38 (2130m underground)"}]},"mark":{"type":"text","font":"Open Sans","fontWeight":"bold","fontSize":18,"color":"#c00000","baseline":"middle"},"encoding":{"text":{"field":"t"}}}
]
}
],
"columns": 2,
"spacing": {"row": 97, "column": 125},
"bounds": "flush",
"resolve": {"scale": {"color":"independent","strokeDash":"independent","x":"independent","y":"independent"}, "legend": {"color":"independent","strokeDash":"independent"}},
"config": {
"font": "Open Sans",
"view": {"stroke": "#d9d9d9", "strokeWidth": 1},
"axis": {"domainColor":"#bfbfbf","tickColor":"#bfbfbf","gridColor":"#e8e8e8","labelColor":"#1a1a1a","titleColor":"#1a1a1a","labelFont":"Open Sans","titleFont":"Open Sans","labelFontSize":20,"titleFontSize":20,"titleFontWeight":"normal","labelOverlap":false,"labelBound":false,"labelFlush":false,
"gridOpacity":{"condition":{"test":"abs(log(datum.value)/LN10 - round(log(datum.value)/LN10)) < 0.001","value":1},"value":0}},
"axisX": {"values":[0.01,0.02,0.03,0.04,0.05,0.06,0.07,0.08,0.09,0.1,0.2,0.3,0.4,0.5,0.6,0.7,0.8,0.9,1,2,3,4,5,6,7,8,9,10],"tickSize":6,"labelPadding":21,"titlePadding":5,"titleX":237,
"labelExpr":"datum.value == 0.01 ? '10⁻²' : datum.value == 0.1 ? '10⁻¹' : datum.value == 1 ? '1' : datum.value == 10 ? '10' : ''"},
"axisY": {"values":[1e-19,2e-19,3e-19,4e-19,5e-19,6e-19,7e-19,8e-19,9e-19,1e-18,2e-18,3e-18,4e-18,5e-18,6e-18,7e-18,8e-18,9e-18,1e-17,2e-17,3e-17,4e-17,5e-17,6e-17,7e-17,8e-17,9e-17,1e-16,2e-16,3e-16,4e-16,5e-16,6e-16,7e-16,8e-16,9e-16,1e-15,2e-15,3e-15,4e-15,5e-15,6e-15,7e-15,8e-15,9e-15,1e-14,2e-14,3e-14,4e-14,5e-14,6e-14,7e-14,8e-14,9e-14,1e-13,2e-13,3e-13,4e-13,5e-13,6e-13,7e-13,8e-13,9e-13,1e-12,2e-12,3e-12,4e-12,5e-12,6e-12,7e-12,8e-12,9e-12,1e-11,2e-11,3e-11,4e-11,5e-11,6e-11,7e-11,8e-11,9e-11,1e-10,2e-10,3e-10,4e-10,5e-10,6e-10,7e-10,8e-10,9e-10,1e-9],"tickSize":7,"labelPadding":2,"titlePadding":22,"labelFontSize":21,"labelOffset":3,"titleY":166,
"labelExpr":"abs(log(datum.value)/LN10 - round(log(datum.value)/LN10)) > 0.001 ? '' : round(log(datum.value)/LN10) == -9 ? '10⁻⁰⁹' : round(log(datum.value)/LN10) == -11 ? '10⁻¹¹' : round(log(datum.value)/LN10) == -13 ? '10⁻¹³' : round(log(datum.value)/LN10) == -15 ? '10⁻¹⁵' : round(log(datum.value)/LN10) == -17 ? '10⁻¹⁷' : round(log(datum.value)/LN10) == -19 ? '10⁻¹⁹' : ''"},
"legend": {"orient":"none","legendX":7,"legendY":4,"padding":6,"strokeColor":"#d9d9d9","fillColor":"white","labelFontSize":7,"labelColor":"#555555","labelFont":"Open Sans","symbolType":"M-1,0H11.5","symbolSize":64,"symbolStrokeWidth":2,"labelOffset":45,"rowPadding":1}
}
}
